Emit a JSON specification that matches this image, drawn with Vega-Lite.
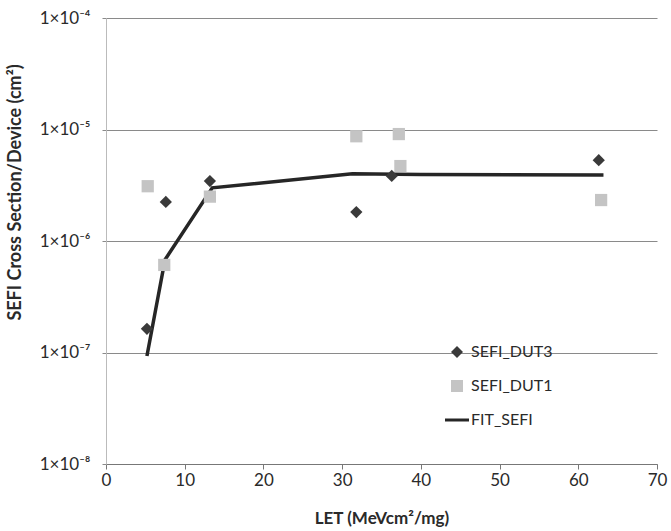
{
  "$schema": "https://vega.github.io/schema/vega-lite/v6.json",
  "width": 551,
  "height": 446,
  "autosize": {"type": "none"},
  "padding": {"left": 106, "top": 18, "right": 14, "bottom": 67},
  "background": "white",
  "config": {
    "view": {"stroke": null},
    "font": "Lato"
  },
  "data": {
    "values": [
      {"series": "SEFI_DUT3", "let": 5.2, "sigma": 1.63e-7},
      {"series": "SEFI_DUT3", "let": 7.6, "sigma": 2.24e-6},
      {"series": "SEFI_DUT3", "let": 13.2, "sigma": 3.45e-6},
      {"series": "SEFI_DUT3", "let": 31.8, "sigma": 1.82e-6},
      {"series": "SEFI_DUT3", "let": 36.3, "sigma": 3.83e-6},
      {"series": "SEFI_DUT3", "let": 62.6, "sigma": 5.3e-6},
      {"series": "SEFI_DUT1", "let": 5.3, "sigma": 3.1e-6},
      {"series": "SEFI_DUT1", "let": 7.4, "sigma": 6.1e-7},
      {"series": "SEFI_DUT1", "let": 13.2, "sigma": 2.5e-6},
      {"series": "SEFI_DUT1", "let": 31.8, "sigma": 8.7e-6},
      {"series": "SEFI_DUT1", "let": 37.2, "sigma": 9.1e-6},
      {"series": "SEFI_DUT1", "let": 37.4, "sigma": 4.7e-6},
      {"series": "SEFI_DUT1", "let": 62.9, "sigma": 2.33e-6},
      {"series": "FIT_SEFI", "let": 5.2, "sigma": 9.3e-8},
      {"series": "FIT_SEFI", "let": 7.5, "sigma": 6.8e-7},
      {"series": "FIT_SEFI", "let": 13.5, "sigma": 3.0e-6},
      {"series": "FIT_SEFI", "let": 31.3, "sigma": 4.0e-6},
      {"series": "FIT_SEFI", "let": 40.0, "sigma": 3.95e-6},
      {"series": "FIT_SEFI", "let": 63.2, "sigma": 3.9e-6}
    ]
  },
  "encoding": {
    "x": {
      "field": "let", "type": "quantitative",
      "scale": {"domain": [0, 70], "nice": false, "zero": false},
      "axis": {
        "title": "LET (MeVcm²/mg)",
        "titleFont": "Lato", "titleFontSize": 17, "titleFontWeight": "bold", "titleColor": "#2a2a2a",
        "titleBaseline": "top", "titleY": 46,
        "values": [0, 10, 20, 30, 40, 50, 60, 70],
        "labelFontSize": 17, "labelColor": "#2a2a2a", "labelFont": "Lato",
        "labelPadding": 3, "tickSize": 5, "tickColor": "#777", "domainColor": "#777",
        "grid": false, "labelFlush": false
      }
    },
    "y": {
      "field": "sigma", "type": "quantitative",
      "scale": {"type": "log", "domain": [1e-8, 1e-4], "nice": false},
      "axis": {
        "title": "SEFI Cross Section/Device (cm²)",
        "titleFont": "Lato", "titleFontSize": 18, "titleFontWeight": "bold", "titleColor": "#2a2a2a",
        "titleX": -91, "titleY": 174, "titleAngle": 270, "titleAlign": "center", "titleBaseline": "middle",
        "values": [1e-8, 1e-7, 1e-6, 1e-5, 1e-4],
        "labelExpr": "'1×10⁻' + ['⁰','¹','²','³','⁴','⁵','⁶','⁷','⁸','⁹'][-round(log(datum.value)/LN10)]",
        "labelFontSize": 17, "labelColor": "#2a2a2a", "labelFont": "Lato",
        "ticks": true, "tickSize": 4, "tickColor": "#8a8a8a", "labelPadding": 12,
        "domainColor": "#bbbbbb",
        "grid": true, "gridColor": "#8a8a8a", "gridWidth": 1
      }
    },
    "color": {
      "field": "series", "type": "nominal",
      "scale": {"domain": ["SEFI_DUT3", "SEFI_DUT1", "FIT_SEFI"], "range": ["#3a3a3a", "#c4c4c4", "#262626"]},
      "legend": {
        "title": null, "orient": "none", "legendX": 343, "legendY": 326,
        "labelFontSize": 16, "labelFont": "Lato", "labelColor": "#2a2a2a",
        "symbolSize": 144, "labelOffset": 6, "rowPadding": 18,
        "symbolStrokeWidth": 0
      }
    }
  },
  "layer": [
    {
      "transform": [{"filter": "datum.series === 'FIT_SEFI'"}],
      "mark": {"type": "line", "strokeWidth": 3.5, "strokeJoin": "miter"}
    },
    {
      "transform": [{"filter": "datum.series !== 'FIT_SEFI'"}],
      "mark": {"type": "point", "filled": true, "opacity": 1, "size": 150},
      "encoding": {
        "shape": {
          "field": "series", "type": "nominal",
          "scale": {"domain": ["SEFI_DUT3", "SEFI_DUT1", "FIT_SEFI"], "range": ["diamond", "square", "M-2,-0.25L2,-0.25L2,0.25L-2,0.25Z"]},
          "legend": {
            "title": null, "orient": "none", "legendX": 343, "legendY": 326,
            "labelFontSize": 16, "labelFont": "Lato", "labelColor": "#2a2a2a",
            "symbolSize": 144, "labelOffset": 6, "rowPadding": 18,
            "symbolStrokeWidth": 0
          }
        }
      }
    }
  ]
}
